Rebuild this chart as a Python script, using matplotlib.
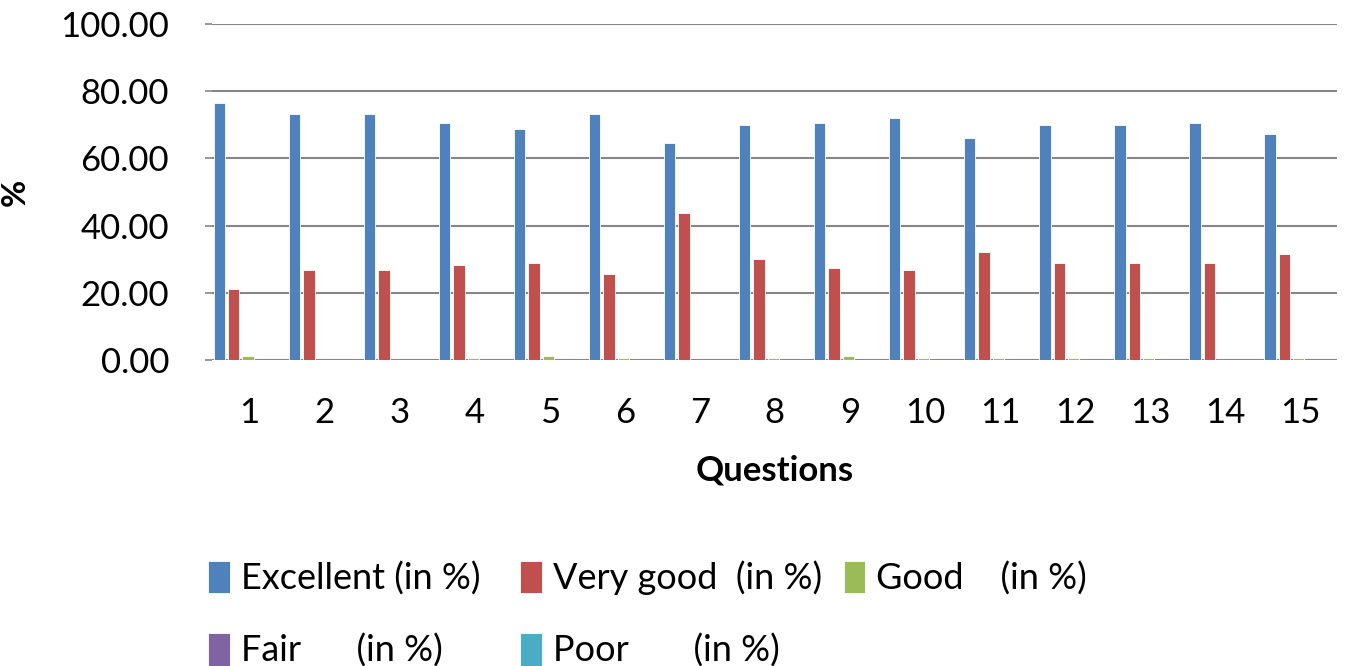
import matplotlib
matplotlib.use("Agg")
import matplotlib.pyplot as plt
import numpy as np

plt.rcParams['font.family'] = ['Lato', 'DejaVu Sans']

questions = [str(i) for i in range(1, 16)]
excellent = [76.6, 73.3, 73.3, 70.4, 68.8, 73.3, 64.5, 69.9, 70.4, 72.1, 66.0, 69.9, 69.9, 70.4, 67.2]
very_good = [21.2, 26.7, 26.7, 28.4, 28.9, 25.6, 43.8, 30.0, 27.3, 26.7, 32.2, 28.9, 28.9, 28.9, 31.6]
good      = [1.3, 0.0, 0.0, 0.7, 1.3, 0.7, 0.0, 0.7, 1.3, 0.7, 0.7, 0.7, 0.7, 0.0, 0.7]
fair      = [0.0] * 15
poor      = [0.0] * 15

series = [
    ("Excellent (in %)  ", excellent, "#4F81BD"),
    ("Very good  (in %)", very_good, "#C0504D"),
    ("Good    (in %)", good, "#9BBB59"),
    ("Fair      (in %)", fair, "#8064A2"),
    ("Poor       (in %)", poor, "#4BACC6"),
]

fig = plt.figure(figsize=(13.51, 6.66), dpi=100)
ax = fig.add_axes([0.157, 0.4595, 0.833, 0.5045])

x = np.arange(len(questions))
step = 0.19
width = 0.15
handles = []
for i, (label, vals, color) in enumerate(series):
    h = ax.bar(x + (i - 2) * step - 0.02, vals, width=width, color=color,
               edgecolor='white', linewidth=0.6, label=label, zorder=3)
    handles.append(h)

ax.set_xlim(-0.5, len(questions) - 0.5)
ax.set_ylim(0, 100)
ax.set_yticks(np.arange(0, 101, 20))
ax.set_yticklabels([f"{v:.2f}" for v in np.arange(0, 101, 20)])
ax.set_xticks(x)
ax.set_xticklabels(questions)
ax.yaxis.grid(True, color='#868686', linewidth=1.5, zorder=0)
for s in ax.spines.values():
    s.set_visible(False)
ax.tick_params(axis='x', length=0, labelsize=25, colors='black', pad=27)
ax.tick_params(axis='y', length=5, width=1.2, color='#868686', labelsize=25,
               labelcolor='black', pad=26)

ax.set_ylabel("%", fontsize=24, fontweight='bold')
ax.yaxis.set_label_coords(-0.162, 0.5)
ax.set_xlabel("Questions", fontsize=25, fontweight='bold', labelpad=18)

order = [0, 3, 1, 4, 2]
fig.legend([handles[i] for i in order], [series[i][0] for i in order],
           loc='upper left', bbox_to_anchor=(0.13, 0.207), ncol=3,
           frameon=False, fontsize=26, handlelength=0.6, handleheight=1.0,
           handletextpad=0.3, columnspacing=0.6, labelspacing=1.05)

fig.savefig("out.png", dpi=100)
